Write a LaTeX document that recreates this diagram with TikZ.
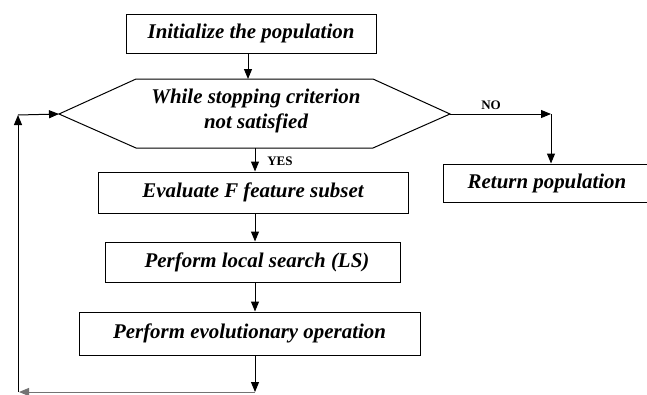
\documentclass[tikz,border=0pt]{standalone}
\usepackage{fontspec}
\setmainfont{Liberation Serif}
\usetikzlibrary{arrows.meta}
\begin{document}
\begin{tikzpicture}[x=1pt,y=-1pt,
  box/.style={draw, line width=1pt, inner sep=0pt, font=\fontsize{20.9}{24.8}\selectfont\bfseries\itshape},
  txt/.style={font=\fontsize{20.9}{24.4}\selectfont\bfseries\itshape, align=center, inner sep=0pt},
  arr/.style={-{Triangle[length=10pt,width=8pt]}, line width=1pt},
  lbl/.style={font=\fontsize{13}{15}\selectfont\bfseries, inner sep=0pt},
  edge/.style={line width=1pt}]
\useasboundingbox (0,0) rectangle (647,394);
\clip (0,0) rectangle (647,394);
% boxes
\node[box, minimum width=250pt, minimum height=39pt] (init) at (251,33.5) {\hspace*{0pt}Initialize the population\hspace{20pt}};
\node[box, minimum width=310pt, minimum height=41pt] (eval) at (253,192.5) {\hspace*{0pt}Evaluate F feature subset\hspace{10pt}};
\node[box, minimum width=295pt, minimum height=40pt] (ls) at (252.5,262) {\hspace*{9pt}Perform local search (LS)};
\node[box, minimum width=341pt, minimum height=43pt] (evo) at (249.5,333.5) {\hspace*{0pt}Perform evolutionary operation\hspace{25pt}};
\node[box, minimum width=208pt, minimum height=38pt] (ret) at (547,183) {Return population};
% hexagon
\coordinate (hl) at (59,114);
\coordinate (hr) at (450,114);
\coordinate (ht) at (248,79);
\coordinate (hb) at (255,148);
\draw[edge] (hl) -- (136,79) -- (373,79) -- (hr) -- (373,148) -- (136,148) -- cycle;
\node[txt] (cond) at (256,111) {While stopping criterion\\not satisfied};
% connectors
\draw[arr] (ht |- init.south) -- (ht);
\draw[arr] (hb) -- (hb |- eval.north);
\node[lbl] (yes) at (280,161.5) {YES};
\draw[arr] (hb |- eval.south) -- (hb |- ls.north);
\draw[arr] (hb |- ls.south) -- (hb |- evo.north);
\coordinate (bot) at (255,392);
\coordinate (bl) at (19,392);
\coordinate (tl) at (18,115);
\draw[arr] (hb |- evo.south) -- (bot);
\draw[arr, black!55] (bot) -- (bl);
\draw[arr] (18,392) -- (tl);
\draw[arr] (tl) -- (hl);
\coordinate (nr) at (551,114);
\draw[arr] (hr) -- (nr);
\node[lbl] (no) at (491,105) {NO};
\draw[arr] (nr) -- (ret.north -| nr);
\end{tikzpicture}
\end{document}
